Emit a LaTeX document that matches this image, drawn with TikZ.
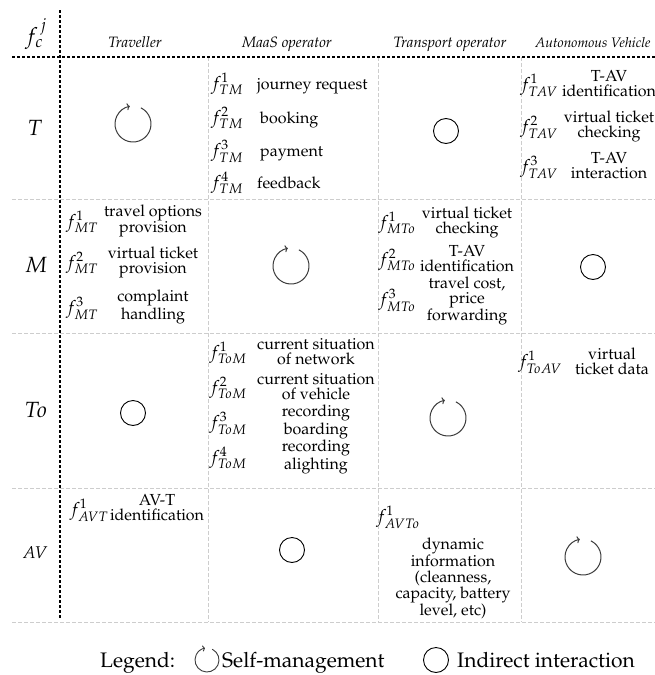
\documentclass[tikz,border=0pt]{standalone}
\usepackage[T1]{fontenc}
\usepackage{mathpazo}
\usetikzlibrary{arrows.meta}
\definecolor{gridgray}{RGB}{205,205,205}
\definecolor{loopgray}{RGB}{60,60,60}
\tikzset{
  x=1pt, y=1pt,
  thickrule/.style={line width=2pt, dash pattern=on 3pt off 2pt},
  cellrule/.style={gridgray, line width=1pt, dash pattern=on 4pt off 2pt},
  fsym/.style={inner sep=0pt, anchor=base, font=\fontsize{18}{15}\selectfont},
  desc/.style={inner sep=0pt, align=center, font=\fontsize{16}{15}\selectfont},
  colhead/.style={inner sep=0pt, anchor=base, font=\fontsize{15}{15}\selectfont\itshape},
  rowhead/.style={inner sep=0pt, font=\fontsize{22}{22}\selectfont},
  legendtext/.style={inner sep=0pt, anchor=base west, font=\fontsize{21}{21}\selectfont},
  indirect/.style={circle, draw, line width=0.9pt, minimum size=25pt, inner sep=0pt},
  selfbig/.pic={\draw[loopgray, line width=1pt, -{To[length=3pt,width=7pt]}]
      (64:18) arc[start angle=64, end angle=-260, radius=18];},
  selfsmall/.pic={\draw[loopgray, line width=0.9pt, -{To[length=2.5pt,width=6pt]}]
      (64:12) arc[start angle=64, end angle=-260, radius=12];},
}
\begin{document}
\begin{tikzpicture}
\useasboundingbox (0,0) rectangle (655,-675);
\fill[white] (0,0) rectangle (655,-675);

% light cell grid
\foreach \yy in {199,333,488,622}
  \draw[cellrule] (12,-\yy) -- (655,-\yy);
\foreach \xx in {208,378,521}
  \draw[cellrule] (\xx,-57) -- (\xx,-622);

% heavy header rules
\draw[thickrule] (12,-57) -- (655,-57);
\draw[thickrule] (60,-10) -- (60,-618);

% header
\node[rowhead] (fcj) at (36,-34) {$f_c^{\,j}$};
\node[colhead] (hT)  at (135,-47) {Traveller};
\node[colhead] (hM)  at (287,-47) {MaaS operator};
\node[colhead] (hTo) at (450,-47) {Transport operator};
\node[colhead, font=\fontsize{13.8}{14}\selectfont\itshape] (hAV) at (593,-47) {Autonomous Vehicle};

% row labels
\node[rowhead] (rT)  at (35,-128) {$T$};
\node[rowhead] (rM)  at (36,-265) {$M$};
\node[rowhead] (rTo) at (36,-410) {$To$};
\node[rowhead, font=\fontsize{17}{17}\selectfont] (rAV) at (35,-553) {$AV$};

% row T
\pic (sTT) at (133,-124) {selfbig};
\node[fsym] (fTM1) at (227,-89)  {$f^{1}_{TM}$};
\node[desc, anchor=base west] (dTM1) at (257,-89) {journey request};
\node[fsym] (fTM2) at (227,-123) {$f^{2}_{TM}$};
\node[desc, anchor=base west] (dTM2) at (260,-123) {booking};
\node[fsym] (fTM3) at (227,-156) {$f^{3}_{TM}$};
\node[desc, anchor=base west] (dTM3) at (260,-156) {payment};
\node[fsym] (fTM4) at (227,-188) {$f^{4}_{TM}$};
\node[desc, anchor=base west] (dTM4) at (257,-188) {feedback};
\node[indirect] (iTTo) at (446,-131) {};
\node[fsym] (fTAV1) at (539,-90)  {$f^{1}_{TAV}$};
\node[desc] (dTAV1) at (609,-84) {T-AV\\identification};
\node[fsym] (fTAV2) at (539,-132) {$f^{2}_{TAV}$};
\node[desc] (dTAV2) at (609,-126) {virtual ticket\\checking};
\node[fsym] (fTAV3) at (539,-172) {$f^{3}_{TAV}$};
\node[desc] (dTAV3) at (609,-166) {T-AV\\interaction};

% row M
\node[fsym] (fMT1) at (82,-227) {$f^{1}_{MT}$};
\node[desc] (dMT1) at (153,-221) {travel options\\provision};
\node[fsym] (fMT2) at (82,-268) {$f^{2}_{MT}$};
\node[desc] (dMT2) at (153,-262) {virtual ticket\\provision};
\node[fsym] (fMT3) at (82,-313) {$f^{3}_{MT}$};
\node[desc] (dMT3) at (153,-307) {complaint\\handling};
\pic (sMM) at (291,-266) {selfbig};
\node[fsym] (fMTo1) at (397,-228) {$f^{1}_{MTo}$};
\node[desc] (dMTo1) at (467,-222) {virtual ticket\\checking};
\node[fsym] (fMTo2) at (397,-265) {$f^{2}_{MTo}$};
\node[desc] (dMTo2) at (467,-259) {T-AV\\identification};
\node[fsym] (fMTo3) at (397,-305) {$f^{3}_{MTo}$};
\node[desc] (dMTo3) at (467,-301) {travel cost,\\price\\forwarding};
\node[indirect] (iMAV) at (593,-267) {};

% row To
\node[indirect] (iToT) at (133,-413) {};
\node[fsym] (fToM1) at (228,-358) {$f^{1}_{ToM}$};
\node[desc] (dToM1) at (316,-352) {current situation\\of network};
\node[fsym] (fToM2) at (228,-393) {$f^{2}_{ToM}$};
\node[desc] (dToM2) at (316,-387) {current situation\\of vehicle};
\node[fsym] (fToM3) at (228,-428) {$f^{3}_{ToM}$};
\node[desc] (dToM3) at (316,-422) {recording\\boarding};
\node[fsym] (fToM4) at (228,-463) {$f^{4}_{ToM}$};
\node[desc] (dToM4) at (316,-457) {recording\\alighting};
\pic (sToTo) at (448,-418) {selfbig};
\node[fsym] (fToAV1) at (540,-367) {$f^{1}_{ToAV}$};
\node[desc] (dToAV1) at (612,-361) {virtual\\ticket data};

% row AV
\node[fsym] (fAVT1) at (89,-515) {$f^{1}_{AVT}$};
\node[desc] (dAVT1) at (157,-508) {AV-T\\identification};
\node[indirect] (iAVM) at (292,-550) {};
\node[fsym] (fAVTo1) at (398,-522) {$f^{1}_{AVTo}$};
\node[desc, font=\fontsize{16}{16}\selectfont] (dAVTo1) at (453,-578)
  {dynamic\\information\\(cleanness,\\capacity, battery\\level, etc)};
\pic (sAVAV) at (583,-557) {selfbig};

% legend
\node[legendtext] (lg) at (100,-667) {Legend:};
\pic (lgself) at (207,-660) {selfsmall};
\node[legendtext] (lgselft) at (222,-667) {Self-management};
\node[indirect] (lgind) at (436,-660) {};
\node[legendtext] (lgindt) at (457,-667) {Indirect interaction};
\end{tikzpicture}
\end{document}
